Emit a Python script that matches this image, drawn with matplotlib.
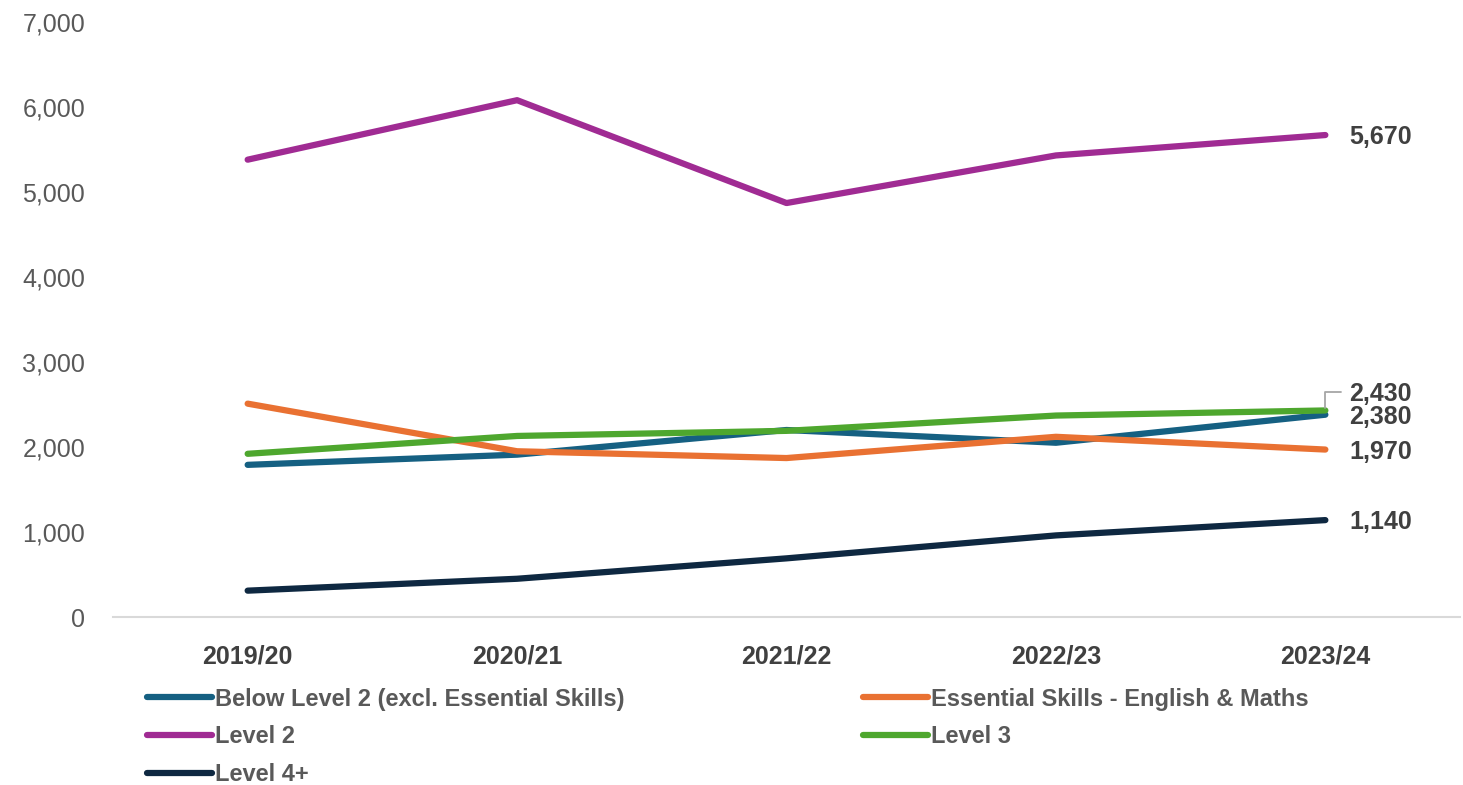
import matplotlib
matplotlib.use('Agg')
import matplotlib.pyplot as plt

# 数据
years = ['2019/20', '2020/21', '2021/22', '2022/23', '2023/24']
below_level2 = [1790, 1910, 2200, 2050, 2380]
essential_skills = [2510, 1950, 1870, 2120, 1970]
level2 = [5380, 6080, 4870, 5430, 5670]
level3 = [1920, 2130, 2190, 2370, 2430]
level4 = [310, 450, 690, 960, 1140]

series = [
    ('Below Level 2 (excl. Essential Skills)', below_level2, '#156082'),
    ('Level 2', level2, '#A02B93'),
    ('Level 4+', level4, '#0E2841'),
    ('Essential Skills - English & Maths', essential_skills, '#E97132'),
    ('Level 3', level3, '#4EA72E'),
]

# 末端标签的竖直偏移（点），避免重叠
label_offsets = {'Level 3': 12, 'Below Level 2 (excl. Essential Skills)': -2}

fig = plt.figure(figsize=(14.63, 7.85), dpi=100)
ax = fig.add_axes([0.0772, 0.214, 0.9208, 0.758])

x = list(range(len(years)))
for name, vals, color in series:
    ax.plot(x, vals, color=color, linewidth=4.5, solid_capstyle='round',
            solid_joinstyle='round', label=name)
    dy = label_offsets.get(name, -1.5)
    ax.annotate(f'{vals[-1]:,}', xy=(x[-1], vals[-1]), xytext=(17, dy),
                textcoords='offset points', va='center', ha='left',
                fontsize=18, fontweight='bold', color='#404040',
                family=['Liberation Sans', 'DejaVu Sans'])

# 2,430 标签的引导线
ax.annotate('', xy=(x[-1], level3[-1]), xytext=(11, 13), textcoords='offset points',
            arrowprops=dict(arrowstyle='-', color='#A6A6A6', lw=1.3,
                            connectionstyle='angle,angleA=0,angleB=90,rad=0',
                            shrinkA=0, shrinkB=2))

ax.set_xlim(-0.5, len(years) - 0.5)
ax.set_ylim(0, 7000)
ax.set_yticks(range(0, 7001, 1000))
ax.set_yticklabels([f'{v:,}' for v in range(0, 7001, 1000)],
                   fontsize=18, color='#595959', family='Liberation Sans')
ax.set_xticks(x)
ax.set_xticklabels(years, fontsize=18, fontweight='bold', color='#404040',
                   family='Liberation Sans')
ax.tick_params(axis='both', length=0)
ax.tick_params(axis='x', pad=20)
ax.tick_params(axis='y', pad=20)

for s in ['top', 'right', 'left']:
    ax.spines[s].set_visible(False)
ax.spines['bottom'].set_color('#D9D9D9')
ax.spines['bottom'].set_linewidth(1.5)

leg = fig.legend(loc='upper left', bbox_to_anchor=(0.0862, 0.151), ncol=2,
                 frameon=False, handlelength=2.75, handletextpad=0.13,
                 columnspacing=10.1, labelspacing=0.62, borderpad=0.4,
                 prop={'family': ['Liberation Sans Narrow', 'Liberation Sans'],
                       'weight': 'bold', 'size': 17})
for t in leg.get_texts():
    t.set_color('#595959')

plt.savefig('out.png', dpi=100)
